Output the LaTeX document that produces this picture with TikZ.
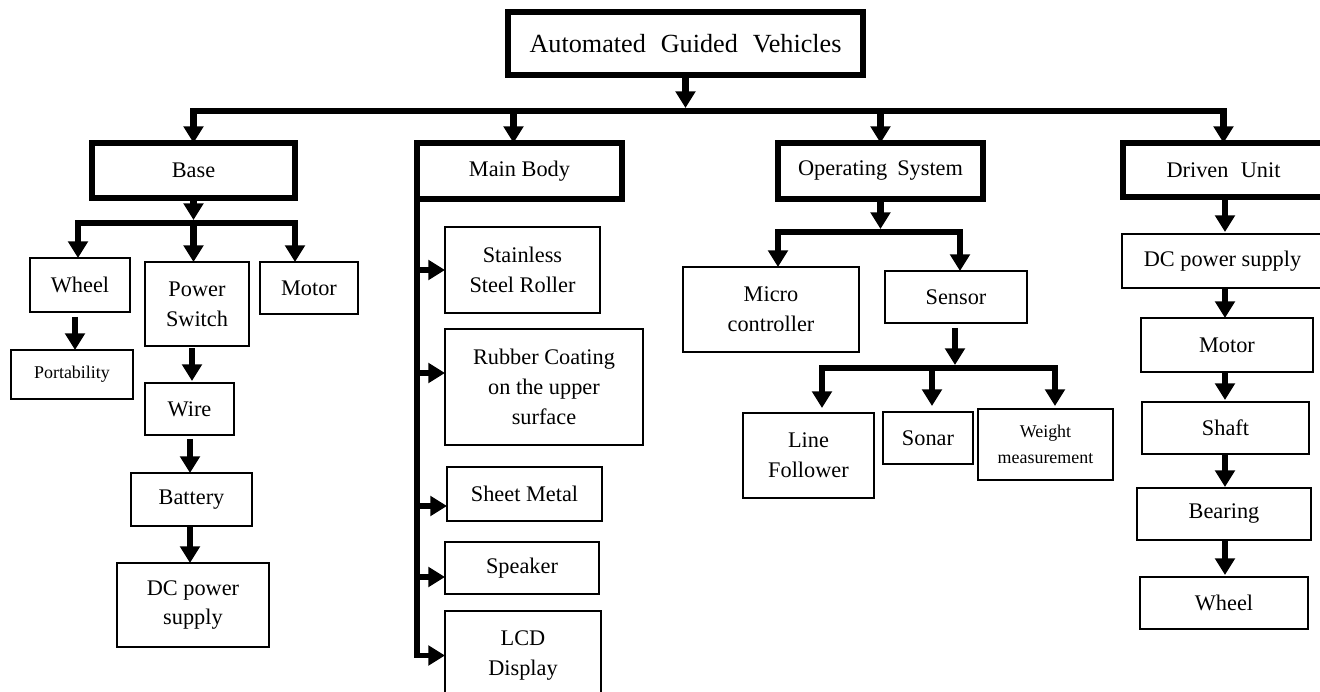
\documentclass[tikz,border=0pt]{standalone}
\usepackage{fontspec}
\setmainfont{Liberation Serif}
\usetikzlibrary{arrows.meta,calc}

% fonts used in the boxes
\newcommand\agvfont{\fontsize{14.9}{18}\selectfont}
\newcommand\nodefont{\fontsize{12.7}{17}\selectfont}
\newcommand\smallnodefont{\fontsize{10.2}{14.5}\selectfont}

% \putbox{style}{name}{x1}{y1}{x2}{y2}{text}: box given by its corners
\newcommand\putbox[7]{%
  \pgfmathsetmacro\boxw{(#5-#3)*0.02}%
  \pgfmathsetmacro\boxh{(#6-#4)*0.02}%
  \node[#1, minimum width=\boxw cm, minimum height=\boxh cm] (#2)
    at ({(#3+#5)/2},{(#4+#6)/2}) {#7};}

\begin{document}
\begin{tikzpicture}[x=0.02cm, y=-0.02cm,
  thinbox/.style={draw, line width=1.6pt, inner sep=0pt, outer sep=0pt,
                  align=center, font=\nodefont},
  thickbox/.style={thinbox, line width=3.4pt},
  smallbox/.style={thinbox, font=\smallnodefont},
  busline/.style={line width=3.8pt, line join=miter},
  arrowline/.style={busline, -{Triangle[width=11pt,length=9.5pt]}},
  sideline/.style={arrowline, line width=3pt}]

\useasboundingbox (0,0) rectangle (1320,692);
\clip (0,0) rectangle (1320,692);

% ---- top level
\putbox{thickbox, font=\agvfont}{agv}{508}{12}{863}{75}{Automated\hspace{.57em}Guided\hspace{.57em}Vehicles}
\putbox{thickbox}{base}{92}{143}{295}{198}{Base}
\putbox{thickbox}{mb}{417}{143}{622}{199}{Main Body}
\putbox{thickbox}{os}{778}{143}{983}{199}{Operating\hspace{.45em}System}
\putbox{thickbox}{du}{1123}{143}{1324}{197}{Driven\hspace{.55em}Unit}

% ---- base
\putbox{thinbox}{wheel}{30}{258}{130}{312}{Wheel}
\putbox{thinbox}{psw}{145}{262}{249}{346}{Power\\Switch}
\putbox{thinbox}{motor}{260}{262}{358}{314}{Motor}
\putbox{smallbox}{port}{11}{350}{133}{399}{Portability}
\putbox{thinbox}{wire}{145}{383}{234}{435}{Wire}
\putbox{thinbox}{batt}{131}{473}{252}{526}{Battery}
\putbox{thinbox}{dcb}{117}{563}{269}{647}{DC power\\supply}

% ---- main body
\putbox{thinbox}{ssr}{445}{227}{600}{313}{Stainless\\Steel Roller}
\putbox{thinbox}{rc}{445}{329}{643}{445}{Rubber Coating\\on the upper\\surface}
\putbox{thinbox}{sm}{447}{467}{602}{521}{Sheet Metal}
\putbox{thinbox}{spk}{445}{542}{599}{594}{Speaker}
\putbox{thinbox}{lcd}{445}{611}{601}{700}{LCD\\Display}

% ---- operating system
\putbox{thinbox}{mc}{683}{267}{859}{352}{Micro\\controller}
\putbox{thinbox}{sen}{885}{271}{1027}{323}{Sensor}
\putbox{thinbox}{lf}{743}{413}{874}{498}{Line\\Follower}
\putbox{thinbox}{sonar}{883}{412}{973}{464}{Sonar}
\putbox{smallbox}{wm}{978}{409}{1113}{480}{Weight\\measurement}

% ---- driven unit
\putbox{thinbox}{dcd}{1122}{234}{1323}{288}{DC power supply}
\putbox{thinbox}{dmotor}{1141}{318}{1313}{372}{Motor}
\putbox{thinbox}{shaft}{1142}{402}{1309}{454}{Shaft}
\putbox{thinbox}{bear}{1137}{488}{1311}{540}{Bearing}
\putbox{thinbox}{dwheel}{1140}{577}{1308}{629}{Wheel}

% ---- top bus
\coordinate (topbus) at (685.5,111);
\draw[arrowline] (agv.south) -- ($(topbus)+(0,-3)$);
\draw[arrowline] (topbus) -| (base.north);
\draw[arrowline] (topbus) -| (du.north);
\coordinate (mbin) at ($(mb.north)+(-6,0)$);
\draw[arrowline] (mbin |- topbus) -- (mbin);
\draw[arrowline] (os.north |- topbus) -- (os.north);

% ---- base branch
\coordinate (basebus) at (193.5,223);
\draw[arrowline] (base.south) -- ($(basebus)+(0,-3)$);
\draw[arrowline] (basebus) -| ($(wheel.north)+(-2,0)$);
\draw[arrowline] (basebus) -- (basebus |- psw.north);
\draw[arrowline] (basebus) -| ($(motor.north)+(-14,0)$);
\coordinate (wcol) at (75,0);
\draw[arrowline] ($(wcol |- wheel.south)+(0,5)$) -- (wcol |- port.north);
\coordinate (pcol) at (192,0);
\draw[arrowline] ($(pcol |- psw.south)+(0,2)$) -- ($(pcol |- wire.north)+(0,-2)$);
\coordinate (bcol) at (190,0);
\draw[arrowline] ($(bcol |- wire.south)+(0,4)$) -- (bcol |- batt.north);
\draw[arrowline] (bcol |- batt.south) -- (bcol |- dcb.north);

% ---- main body branch
\draw[sideline] (mb.south west) -- (mb.south west |- lcd.west) -- (lcd.west);
\draw[sideline] (mb.south west |- ssr.west) -- (ssr.west);
\coordinate (rcin) at ($(rc.west)+(0,-14)$);
\draw[sideline] (mb.south west |- rcin) -- (rcin);
\coordinate (smin) at ($(sm.west)+(0,12)$);
\draw[sideline] (mb.south west |- smin) -- (smin);
\coordinate (spkin) at ($(spk.west)+(0,9)$);
\draw[sideline] (mb.south west |- spkin) -- (spkin);

% ---- operating system branch
\coordinate (osbus) at (880.5,232);
\draw[arrowline] (os.south) -- ($(osbus)+(0,-3)$);
\draw[arrowline] (osbus) -| ($(mc.north)+(7,0)$);
\draw[arrowline] (osbus) -| ($(sen.north)+(4,0)$);
\coordinate (senbus) at (955,368);
\draw[arrowline] ($(senbus |- sen.south)+(0,5)$) -- ($(senbus)+(0,-3)$);
\draw[arrowline] (senbus) -| ($(lf.north)+(13.5,-5)$);
\draw[arrowline] (senbus) -| ($(wm.north)+(9.5,-3)$);
\coordinate (sonin) at ($(sonar.north)+(4,-6)$);
\draw[arrowline] (sonin |- senbus) -- (sonin);

% ---- driven unit chain
\coordinate (ducol) at (1225,0);
\draw[arrowline] (ducol |- du.south) -- ($(ducol |- dcd.north)+(0,-2)$);
\draw[arrowline] (ducol |- dcd.south) -- (ducol |- dmotor.north);
\draw[arrowline] (ducol |- dmotor.south) -- ($(ducol |- shaft.north)+(0,-2)$);
\draw[arrowline] (ducol |- shaft.south) -- ($(ducol |- bear.north)+(0,-1)$);
\draw[arrowline] (ducol |- bear.south) -- ($(ducol |- dwheel.north)+(0,-2)$);
\end{tikzpicture}
\end{document}
